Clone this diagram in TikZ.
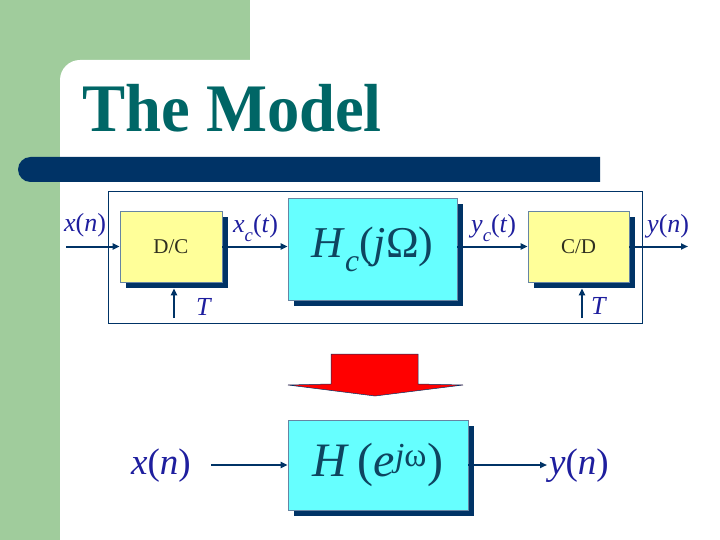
\documentclass[tikz,border=0pt]{standalone}
\usepackage{fontspec}
\setmainfont{Liberation Serif}
\usetikzlibrary{arrows.meta,shadows}
\definecolor{sage}{HTML}{A0CC9C}
\definecolor{ink}{HTML}{003366}
\definecolor{heading}{HTML}{006666}
\definecolor{pale}{HTML}{FFFF99}
\definecolor{aqua}{HTML}{66FFFF}
\definecolor{sig}{HTML}{1E1E9E}
\definecolor{sys}{HTML}{0E4560}
\definecolor{olive}{HTML}{2F2F1F}
\newcommand{\lowsub}[1]{\raisebox{-.32em}{\scalebox{.72}{\textit{#1}}}}
\tikzset{
  blk/.style={draw=ink!60,line width=.6pt,inner sep=0pt,
    drop shadow={shadow xshift=6pt,shadow yshift=-6pt,fill=ink,opacity=1}},
  sigl/.style={text=sig,inner sep=0pt,anchor=base west,font=\fontsize{26}{26}\selectfont},
  wire/.style={draw=ink,line width=2pt,-{Triangle[length=7pt,width=6pt]}}
}

\begin{document}
\begin{tikzpicture}[x=1pt,y=-1pt]
\useasboundingbox (0,0) rectangle (720,540);
\fill[white] (0,0) rectangle (720,540);
\fill[sage] (0,0) rectangle (250,60);
\fill[sage] (0,0) rectangle (60,540);
\fill[sage] (60,60) rectangle (90,90);
\fill[white,rounded corners=20pt] (60,60) rectangle (300,300);
\fill[ink] (600,157) -- (30.5,157) arc (270:90:12.5) -- (600,182) -- cycle;
\node[anchor=base west,text=heading,inner sep=0pt,xscale=.95,
  font=\fontsize{68}{68}\selectfont\bfseries] (title) at (82,132) {The Model};
\draw[ink,line width=1pt] (108,192) rectangle (642,323);
\node[blk,fill=pale,minimum width=102pt,minimum height=71pt,text=olive,
  font=\fontsize{21}{21}\selectfont] (dc) at (171,246.5) {D/C};
\node[blk,fill=aqua,minimum width=169pt,minimum height=102pt,text=sys,
  font=\fontsize{44}{44}\selectfont] (hc) at (372.5,249)
  {\textit{H}\lowsub{c}(\textit{j}Ω)};
\node[blk,fill=pale,minimum width=101pt,minimum height=71pt,text=olive,
  font=\fontsize{21}{21}\selectfont] (cd) at (578.5,246.5) {C/D};
\node[sigl] (xn) at (64,232) {\textit{x}(\textit{n})};
\node[sigl] (xc) at (233,233) {\textit{x}\lowsub{c}(\textit{t})};
\node[sigl] (ta) at (196,315) {\textit{T}};
\node[sigl] (yc) at (471,233) {\textit{y}\lowsub{c}(\textit{t})};
\node[sigl] (yn) at (647,233) {\textit{y}(\textit{n})};
\node[sigl] (tb) at (591,314) {\textit{T}};
\coordinate (in) at (66,246.5);
\coordinate (out) at (688,246.5);
\coordinate (ca) at (174,318);
\coordinate (cb) at (582,318);
\draw[wire] (in) -- (dc.west);
\draw[wire] (dc.east) -- (dc.east -| hc.west);
\draw[wire] (hc.east |- cd.west) -- (cd.west);
\draw[wire] (cd.east) -- (out);
\draw[wire,shorten >=6pt] (ca) -- (ca |- dc.south);
\draw[wire,shorten >=6pt] (cb) -- (cb |- cd.south);
\filldraw[fill=red,draw=ink,line width=.5pt] (331,354) -- (418,354) -- (418,384)
  -- (463,385) -- (375,396) -- (288,385) -- (331,384) -- cycle;
\node[blk,fill=aqua,minimum width=180pt,minimum height=90pt,text=sys,
  font=\fontsize{48}{48}\selectfont] (hd) at (378,465)
  {\textit{H}\,(\textit{e}\textsuperscript{\textit{j}ω})};
\node[sigl,font=\fontsize{37}{37}\selectfont] (xd) at (131,474) {\textit{x}(\textit{n})};
\node[sigl,font=\fontsize{37}{37}\selectfont] (yd) at (549,474) {\textit{y}(\textit{n})};
\coordinate (bin) at (211,465);
\coordinate (bout) at (547,465);
\draw[wire] (bin) -- (hd.west);
\draw[wire] (hd.east) -- (bout);
\end{tikzpicture}
\end{document}
